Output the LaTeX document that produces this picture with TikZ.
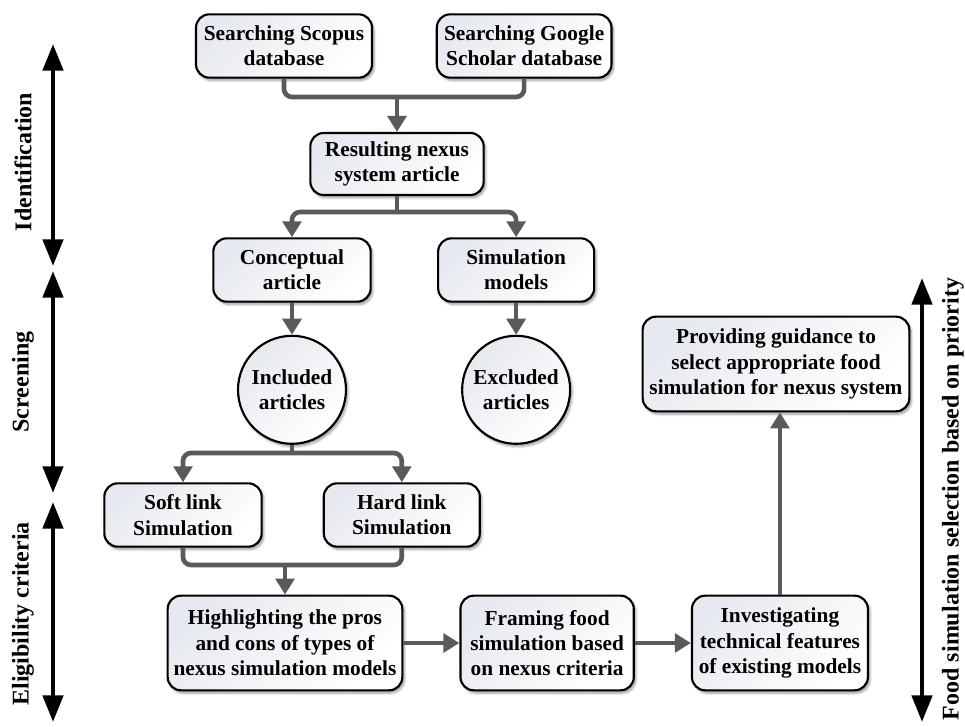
\documentclass[tikz,border=0pt]{standalone}
\usepackage{fontspec}
\setmainfont{Liberation Serif}
\usepackage{tikz}
\usetikzlibrary{arrows.meta, positioning, shapes.geometric, shadows.blur}
\definecolor{linkgray}{HTML}{5A5A5A}
\definecolor{boxfill}{HTML}{E6E9EF}
\tikzset{
    block/.style={draw, line width=1.6pt, rounded corners=10pt, align=center,
        inner sep=2pt, minimum height=47.5pt,
        font=\fontsize{16}{19}\selectfont\bfseries,
        left color=boxfill, right color=white, shading angle=45,
        blur shadow={shadow xshift=1.5pt, shadow yshift=-2pt, shadow blur steps=6}}, % rounded boxes
    tall/.style={minimum height=71pt}, % three lines of text
    round/.style={block, circle, minimum size=81pt}, % included / excluded
    link/.style={draw=linkgray, line width=3.5pt, rounded corners=6pt}, % gray connectors
    arr/.style={link, -{Triangle[width=14pt, length=12pt]}},
    scalearrow/.style={line width=3.5pt,
        {Triangle[width=15pt, length=20pt]}-{Triangle[width=15pt, length=20pt]}}, % phase arrows
    phase/.style={rotate=90, font=\fontsize{18}{20}\selectfont\bfseries},
}

\begin{document}
\begin{tikzpicture}[x=0.75pt, y=-0.75pt]
    \useasboundingbox (0,0) rectangle (965,727);

    % search stage
    \node[block, minimum width=132pt] (scopus) at (284,46) {Searching Scopus\\database};
    \node[block, minimum width=131pt, right=47pt of scopus] (google) {Searching Google\\Scholar database};
    \node[block, minimum width=130pt, minimum height=46.5pt] (result) at (397,164) {Resulting nexus\\system article};

    % screening stage
    \node[block, minimum width=118pt] (concept) at (292,270) {Conceptual\\article};
    \node[block, minimum width=117pt, right=49pt of concept] (simmod) {Simulation\\models};
    \node[round, below=24pt of concept] (incl) {Included\\articles};
    \node[round, below=24pt of simmod] (excl) {Excluded\\articles};

    % eligibility stage
    \node[block, minimum width=118pt] (soft) at (183,515) {Soft link\\Simulation};
    \node[block, minimum width=117pt, right=45pt of soft] (hard) {Hard link\\Simulation};
    \node[block, tall, minimum width=176pt] (high) at (285,643) {Highlighting the pros\\and cons of types of\\nexus simulation models};
    \node[block, tall, minimum width=130pt, right=42pt of high] (frame) {Framing food\\simulation based\\on nexus criteria};
    \node[block, tall, minimum width=132pt, right=42pt of frame] (invest) {Investigating\\technical features\\of existing models};
    \node[block, tall, minimum width=200pt] (provide) at (776,364) {Providing guidance to\\select appropriate food\\simulation for nexus system};

    % junctions
    \coordinate (j1) at (397,97);
    \coordinate (j2) at (397,212);
    \coordinate (j3) at (292,453);
    \coordinate (j4) at (285,565);

    % connectors
    \draw[link] (scopus.south) |- (j1) -| (google.south);
    \draw[arr] (j1) -- (result.north);
    \draw[link] (result.south) -- (j2);
    \draw[arr] (j2) -| (concept.north);
    \draw[arr] (j2) -| (simmod.north);
    \draw[arr] (concept) -- (incl);
    \draw[arr] (simmod) -- (excl);
    \draw[link] (incl.south) -- (j3);
    \draw[arr] (j3) -| (soft.north);
    \draw[arr] (j3) -| (hard.north);
    \draw[link] (soft.south) |- (j4) -| (hard.south);
    \draw[arr] (j4) -- (high.north);
    \draw[arr] (high) -- (frame);
    \draw[arr] (frame) -- (invest);
    \draw[arr] (invest.north) -- (invest.north |- provide.south);

    % phases on the left
    \coordinate (ida) at (53,44);
    \coordinate (idb) at (53,266);
    \coordinate (sca) at (53,271);
    \coordinate (scb) at (53,493);
    \coordinate (ela) at (53,502);
    \coordinate (elb) at (53,722);
    \draw[scalearrow] (ida) -- (idb);
    \draw[scalearrow] (sca) -- (scb);
    \draw[scalearrow] (ela) -- (elb);
    \node[phase] (idlab) at (23,162) {Identification};
    \node[phase] (sclab) at (23,382) {Screening};
    \node[phase] (ellab) at (23,614) {Eligibility criteria};

    % priority on the right
    \coordinate (pra) at (922,278);
    \coordinate (prb) at (922,722);
    \draw[scalearrow] (pra) -- (prb);
    \node[phase] (prlab) at (953,499) {Food simulation selection based on priority};
\end{tikzpicture}
\end{document}
